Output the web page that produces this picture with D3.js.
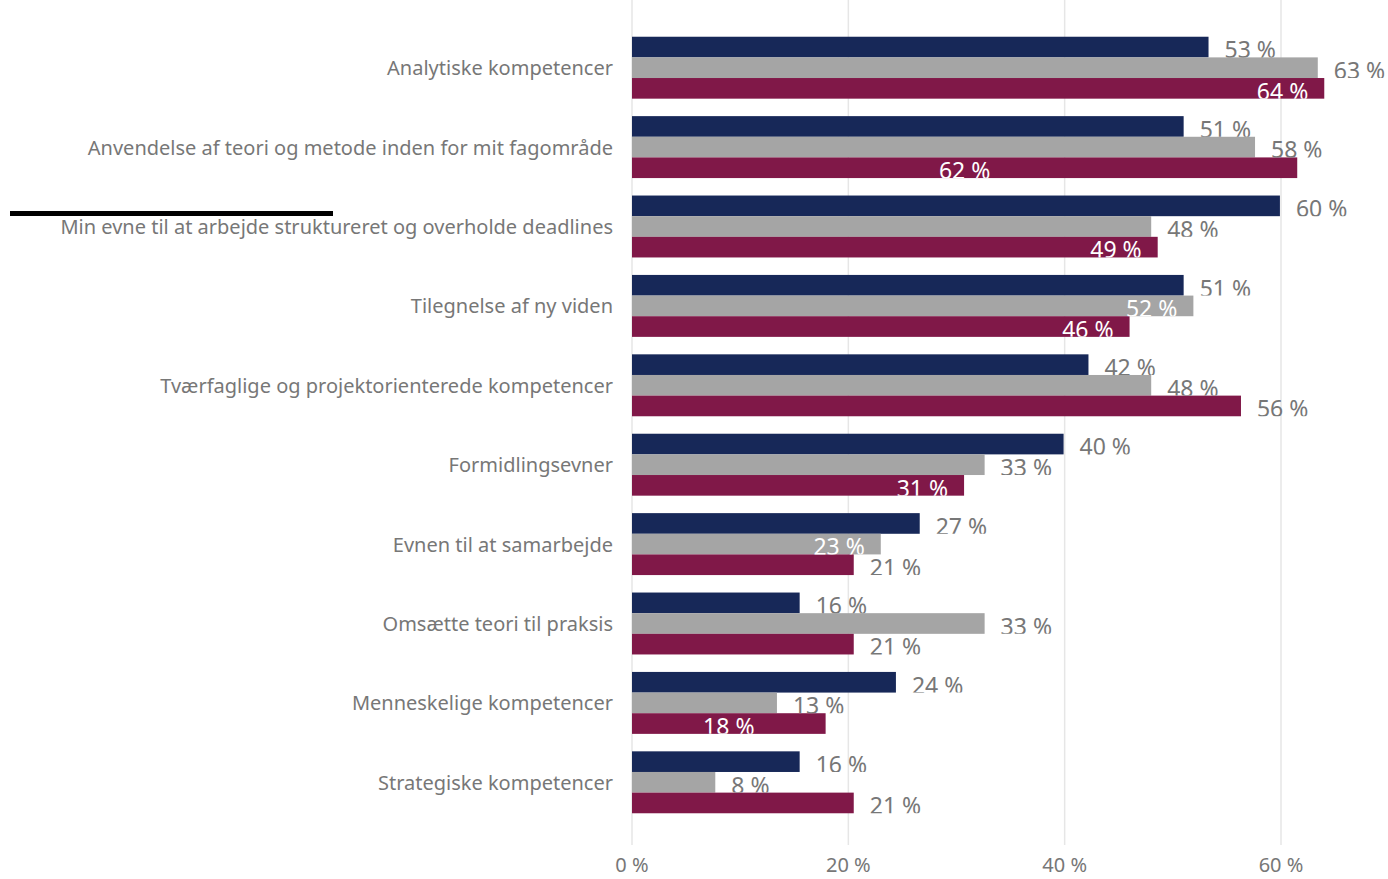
<!DOCTYPE html>
<html>
<head>
<meta charset="utf-8">
<script src="https://cdn.jsdelivr.net/npm/d3@7"></script>
<style>
  body { margin: 0; background: #fff; }
  svg { display: block; font-family: "Noto Sans", sans-serif; }
</style>
</head>
<body>
<svg id="chart" width="1388" height="879"></svg>
<script>
// categories, top to bottom
const categories = [
  "Analytiske kompetencer",
  "Anvendelse af teori og metode inden for mit fagområde",
  "Min evne til at arbejde struktureret og overholde deadlines",
  "Tilegnelse af ny viden",
  "Tværfaglige og projektorienterede kompetencer",
  "Formidlingsevner",
  "Evnen til at samarbejde",
  "Omsætte teori til praksis",
  "Menneskelige kompetencer",
  "Strategiske kompetencer"
]

// series values in percent
const seriesKeys = ["serie1", "serie2", "serie3"]
const serie1 = [53.3, 51.0, 59.9, 51.0, 42.2, 39.9, 26.6, 15.5, 24.4, 15.5]
const serie2 = [63.4, 57.6, 48.0, 51.9, 48.0, 32.6, 23.0, 32.6, 13.4, 7.7]
const serie3 = [64.0, 61.5, 48.6, 46.0, 56.3, 30.7, 20.5, 20.5, 17.9, 20.5]

// where each data label sits: o = outside end, e = inside end, c = inside center
const labelPos1 = ["o","o","o","o","o","o","o","o","o","o"]
const labelPos2 = ["o","o","o","e","o","o","e","o","o","o"]
const labelPos3 = ["e","c","e","e","o","e","o","o","c","o"]

const xTicks = [0, 20, 40, 60]

const colors = {serie1: "#172858", serie2: "#a5a5a5", serie3: "#801848"}
const textGrey = "#777777"

const values = {serie1: serie1, serie2: serie2, serie3: serie3}
const positions = {serie1: labelPos1, serie2: labelPos2, serie3: labelPos3}

const W = 1388, H = 879
const svg = d3.select("#chart")

const x = d3.scaleLinear().domain([0, 60]).range([632, 1281])
const y = d3.scaleBand().domain(categories).range([28, 822]).paddingInner(0.22).paddingOuter(0.11)
const ys = d3.scaleBand().domain(seriesKeys).range([0, y.bandwidth()])

// flatten into rows for drawing
const rows = []
categories.forEach(function(c, i){
  seriesKeys.forEach(function(s){
    rows.push({cat: c, i: i, key: s, value: values[s][i], pos: positions[s][i]})
  })
})

// gridlines
svg.append("g").selectAll("line")
  .data(xTicks).enter()
    .append("line")
    .attr("x1", d => x(d)).attr("x2", d => x(d))
    .attr("y1", 0).attr("y2", 845)
    .attr("stroke", "#e6e6e6")
    .attr("stroke-width", 1.5)

// tick labels
svg.append("g").selectAll("text")
  .data(xTicks).enter()
    .append("text")
    .attr("x", d => x(d))
    .attr("y", 872)
    .attr("text-anchor", "middle")
    .attr("fill", textGrey)
    .style("font-size", "20px")
    .text(d => d + " %")

// category labels
svg.append("g").selectAll("text")
  .data(categories).enter()
    .append("text")
    .attr("x", 613)
    .attr("y", d => y(d) + y.bandwidth() / 2 + 7.5)
    .attr("text-anchor", "end")
    .attr("fill", textGrey)
    .style("font-size", "20px")
    .text(d => d)

// bars
svg.append("g").selectAll("rect")
  .data(rows).enter()
    .append("rect")
    .attr("x", x(0))
    .attr("y", d => y(d.cat) + ys(d.key))
    .attr("width", d => x(d.value) - x(0))
    .attr("height", ys.bandwidth())
    .attr("fill", d => colors[d.key])

// each label is clipped to the height of its own bar
const defs = svg.append("defs")
defs.selectAll("clipPath")
  .data(rows).enter()
    .append("clipPath")
    .attr("id", d => "clip-" + d.i + "-" + d.key)
    .append("rect")
      .attr("x", 0)
      .attr("y", d => y(d.cat) + ys(d.key))
      .attr("width", W)
      .attr("height", ys.bandwidth())

function labelX(d){
  if(d.pos == "o") return x(d.value) + 16
  if(d.pos == "e") return x(d.value) - 16
  return (x(0) + x(d.value)) / 2
}

svg.append("g").selectAll("text")
  .data(rows).enter()
    .append("text")
    .attr("clip-path", d => "url(#clip-" + d.i + "-" + d.key + ")")
    .attr("x", labelX)
    .attr("y", d => y(d.cat) + ys(d.key) + ys.bandwidth() + 1)
    .attr("text-anchor", d => d.pos == "o" ? "start" : (d.pos == "e" ? "end" : "middle"))
    .attr("fill", d => d.pos == "o" ? textGrey : "#ffffff")
    .style("font-size", "23px")
    .text(d => Math.round(d.value) + " %")

// stray black stroke left of the third label
svg.append("rect")
  .attr("x", 10).attr("y", 211)
  .attr("width", 323).attr("height", 5)
  .attr("fill", "#000")
</script>
</body>
</html>
